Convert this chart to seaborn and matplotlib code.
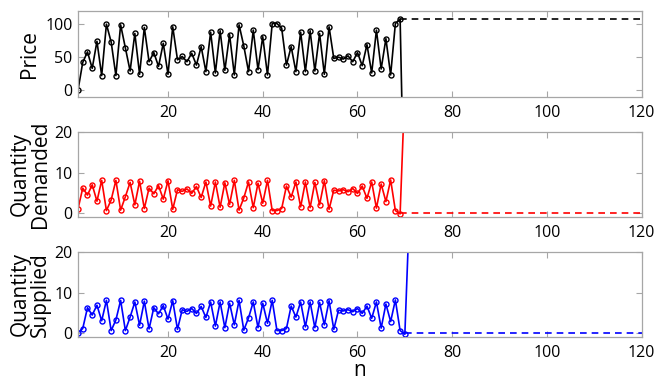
import numpy as np
import pandas as pd
import matplotlib
matplotlib.use("Agg")
import matplotlib.pyplot as plt
import seaborn as sns

# ---------------- data ----------------
price = [0, 42, 58, 33, 74, 22, 100, 73, 22, 99, 64, 29, 86, 24, 95, 43, 57, 36, 71, 24,
         96, 46, 51, 43, 56, 38, 66, 28, 88, 26, 90, 30, 84, 23, 99, 67, 28, 91, 31, 81,
         23, 101, 101, 94, 38, 66, 28, 88, 28, 90, 29, 86, 24, 96, 48, 50, 47, 52, 43, 57,
         37, 69, 26, 91, 32, 78, 23, 101, 108, -230]
demand = [1.1, 6.2, 4.5, 7.0, 3.0, 8.1, 0.7, 3.3, 8.1, 0.8, 4.1, 7.6, 2.1, 7.9, 1.2, 6.2,
          4.8, 6.8, 3.5, 8.0, 1.0, 5.8, 5.4, 6.0, 4.9, 6.6, 3.9, 7.7, 1.8, 7.7, 1.5, 7.5,
          2.2, 8.1, 0.8, 3.8, 7.7, 1.4, 7.4, 2.5, 8.1, 0.7, 0.7, 1.2, 6.7, 4.0, 7.7, 1.6,
          7.7, 1.4, 7.6, 2.1, 8.0, 1.0, 5.7, 5.5, 5.8, 5.3, 6.1, 4.9, 6.7, 3.7, 7.7, 1.3,
          7.2, 2.9, 8.2, 0.7, -0.1, 31]
supply = [0.2, 1.2, 6.3, 4.5, 6.9, 3.1, 8.1, 0.7, 3.3, 8.1, 0.7, 4.0, 7.7, 2.0, 7.9, 1.1,
          6.3, 4.8, 6.8, 3.5, 8.0, 1.0, 5.8, 5.4, 6.1, 4.9, 6.6, 3.9, 7.7, 1.8, 7.7, 1.4,
          7.4, 2.1, 8.1, 0.8, 3.8, 7.7, 1.4, 7.4, 2.5, 8.1, 0.7, 0.7, 1.2, 6.7, 4.0, 7.7,
          1.6, 7.7, 1.4, 7.6, 2.1, 8.0, 1.0, 5.7, 5.5, 5.8, 5.3, 6.1, 4.9, 6.7, 3.7, 7.7,
          1.3, 7.2, 2.9, 8.2, 0.7, -0.2, 31]

# dashed reference lines (start n, end n, level)
ref_price = ([69, 120], [108, 108])
ref_demand = ([69, 120], [0, 0])
ref_supply = ([70, 120], [0, 0])

ylabels = ["Price", "Quantity\nDemanded", "Quantity\nSupplied"]
yticks_list = [[0, 50, 100], [0, 10, 20], [0, 10, 20]]
ylims = [(-10, 120), (-0.8, 20), (-0.8, 20)]
xticks = [20, 40, 60, 80, 100, 120]
colors = ["black", "red", "blue"]

# ---------------- style ----------------
sns.set_theme(style="white")
plt.rcParams["font.family"] = ["Open Sans", "DejaVu Sans"]
plt.rcParams["axes.edgecolor"] = "#a6a6a6"
plt.rcParams["axes.linewidth"] = 0.9

fig = plt.figure(figsize=(6.64, 3.82), dpi=100)
W, H = 664, 382
left, right = 78, 641.7
panels_px = [(11, 96.7), (131.7, 216.7), (251.7, 336.7)]
label_x = [-0.067, -0.048, -0.048]

series = [price, demand, supply]
refs = [ref_price, ref_demand, ref_supply]

for i in range(3):
    top, bot = panels_px[i]
    ax = fig.add_axes([left / W, 1 - bot / H, (right - left) / W, (bot - top) / H])
    vals = series[i]
    df = pd.DataFrame({"n": np.arange(1, len(vals) + 1), "v": vals})
    sns.lineplot(data=df, x="n", y="v", ax=ax, color=colors[i], lw=1.2,
                 marker="o", markersize=3.6, markerfacecolor="none",
                 markeredgecolor=colors[i], markeredgewidth=1.0, sort=False)
    rdf = pd.DataFrame({"n": refs[i][0], "v": refs[i][1]})
    sns.lineplot(data=rdf, x="n", y="v", ax=ax, color=colors[i], lw=1.2,
                 linestyle=(0, (4, 3)))
    ax.set_xlim(1, 120)
    ax.set_ylim(*ylims[i])
    ax.set_xticks(xticks)
    ax.set_yticks(yticks_list[i])
    ax.tick_params(direction="in", length=4, width=0.8, color="#a6a6a6",
                   top=True, right=True, bottom=True, left=True,
                   labelsize=11.5, labelcolor="black", pad=4)
    ax.tick_params(axis="x", pad=6)
    for s in ax.spines.values():
        s.set_visible(True)
    ax.set_ylabel(ylabels[i], fontsize=15, color="black", linespacing=0.95)
    ax.yaxis.set_label_coords(label_x[i], 0.5)
    if i == 2:
        ax.set_xlabel("n", fontsize=15, color="black", labelpad=-1)
    else:
        ax.set_xlabel("")

fig.savefig("out.png", dpi=100)
